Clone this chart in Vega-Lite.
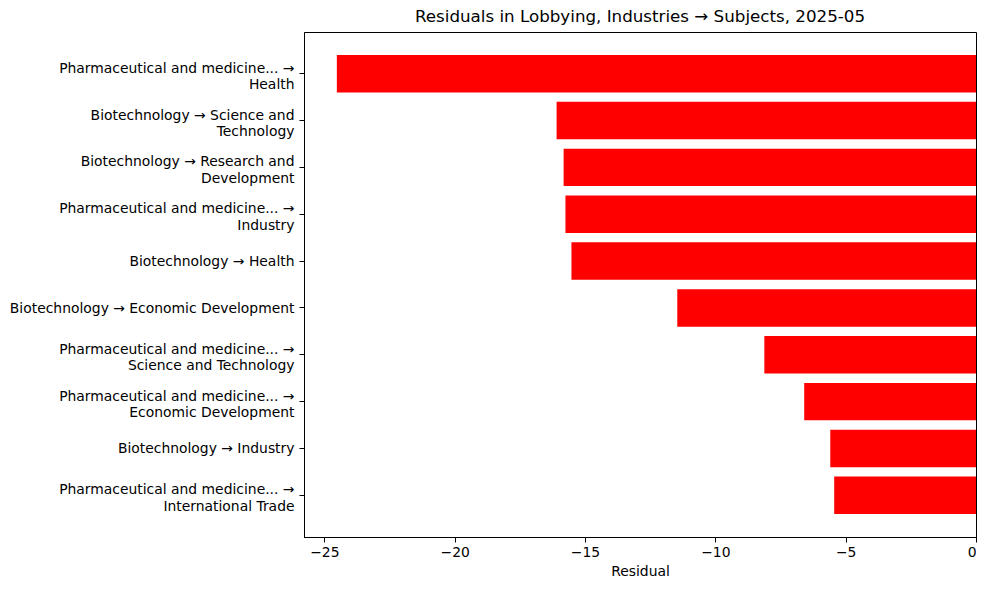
{
  "$schema": "https://vega.github.io/schema/vega-lite/v6.json",
  "autosize": {"type": "none"},
  "padding": {"left": 304, "top": 32, "right": 13, "bottom": 53},
  "width": 672,
  "height": 505,
  "background": "white",
  "title": {
    "text": "Residuals in Lobbying, Industries → Subjects, 2025-05",
    "font": "DejaVu Sans",
    "fontSize": 16.7,
    "fontWeight": "normal",
    "color": "black",
    "offset": 6
  },
  "data": {
    "values": [
      {"pair": "Pharmaceutical and medicine... →\nHealth", "residual": -24.52},
      {"pair": "Biotechnology → Science and\nTechnology", "residual": -16.09},
      {"pair": "Biotechnology → Research and\nDevelopment", "residual": -15.82},
      {"pair": "Pharmaceutical and medicine... →\nIndustry", "residual": -15.75},
      {"pair": "Biotechnology → Health", "residual": -15.52},
      {"pair": "Biotechnology → Economic Development", "residual": -11.46},
      {"pair": "Pharmaceutical and medicine... →\nScience and Technology", "residual": -8.12},
      {"pair": "Pharmaceutical and medicine... →\nEconomic Development", "residual": -6.59},
      {"pair": "Biotechnology → Industry", "residual": -5.59},
      {"pair": "Pharmaceutical and medicine... →\nInternational Trade", "residual": -5.44}
    ]
  },
  "mark": {"type": "bar", "color": "#ff0000"},
  "encoding": {
    "y": {
      "field": "pair",
      "type": "nominal",
      "sort": {"field": "residual", "order": "ascending"},
      "scale": {"paddingInner": 0.2, "paddingOuter": 0.49},
      "axis": {
        "title": null,
        "labelExpr": "split(datum.label, '\\n')",
        "labelLimit": 400,
        "labelLineHeight": 16.7,
        "labelPadding": 5,
        "labelOffset": {
          "condition": {"test": "indexof(datum.value, '\\n') >= 0", "value": -5},
          "value": 1
        }
      }
    },
    "x": {
      "field": "residual",
      "type": "quantitative",
      "scale": {"domain": [-25.78, 0], "nice": false, "zero": false},
      "axis": {
        "title": "Residual",
        "values": [-25, -20, -15, -10, -5, 0],
        "titlePadding": 6
      }
    }
  },
  "config": {
    "view": {"stroke": "black", "strokeWidth": 1},
    "axis": {
      "grid": false,
      "domainColor": "black",
      "tickColor": "black",
      "tickSize": 5,
      "labelPadding": 3,
      "labelColor": "black",
      "labelFont": "DejaVu Sans",
      "labelFontSize": 13.9,
      "titleFont": "DejaVu Sans",
      "titleFontSize": 13.9,
      "titleFontWeight": "normal",
      "titleColor": "black"
    }
  }
}
